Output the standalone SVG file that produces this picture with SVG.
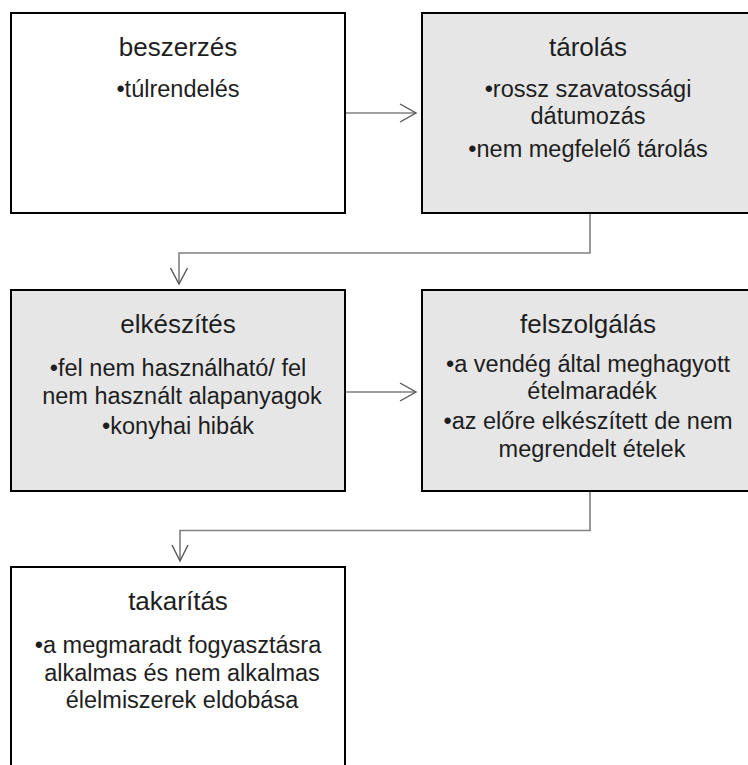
<svg xmlns="http://www.w3.org/2000/svg" width="748" height="765" viewBox="0 0 748 765">
<style>
.box{stroke:#000;stroke-width:2}
.w{fill:#fff}
.g{fill:#e6e6e6}
text{font-family:"Liberation Sans",Arial,sans-serif;fill:#1e1e1e;text-anchor:middle}
.t{font-size:26px}
.b{font-size:23.5px}
.con{fill:none;stroke:#808080;stroke-width:1.6}
.ah{fill:none;stroke:#555;stroke-width:1.4}
</style>
<rect width="748" height="765" fill="#fff"/>
<g id="connectors">
<path class="con" d="M345,113 H415"/>
<path class="ah" d="M400,104 L416,113 L400,122"/>
<path class="con" d="M590,213 V253 H179 V283"/>
<path class="ah" d="M170.5,268 L179,284 L187.5,268"/>
<path class="con" d="M345,392 H415"/>
<path class="ah" d="M400,383 L416,392 L400,401"/>
<path class="con" d="M590,491 V530.5 H180 V560"/>
<path class="ah" d="M172,545 L180,561 L188,545"/>
</g>
<g id="beszerzes">
<rect class="box w" x="11" y="13" width="334" height="200"/>
<text class="t" x="178" y="56">beszerzés</text>
<text class="b" x="178" y="97">•túlrendelés</text>
</g>
<g id="tarolas">
<rect class="box g" x="422" y="13" width="334" height="200"/>
<text class="t" x="588" y="56">tárolás</text>
<text class="b" x="588" y="97">•rossz szavatossági</text>
<text class="b" x="588" y="124">dátumozás</text>
<text class="b" x="588" y="157">•nem megfelelő tárolás</text>
</g>
<g id="elkeszites">
<rect class="box g" x="11" y="290" width="334" height="201"/>
<text class="t" x="178" y="333">elkészítés</text>
<text class="b" x="178" y="376">•fel nem használható/ fel</text>
<text class="b" x="182" y="404">nem használt alapanyagok</text>
<text class="b" x="178" y="434">•konyhai hibák</text>
</g>
<g id="felszolgalas">
<rect class="box g" x="422" y="290" width="334" height="201"/>
<text class="t" x="588" y="333">felszolgálás</text>
<text class="b" x="588" y="372">•a vendég által meghagyott</text>
<text class="b" x="592" y="399">ételmaradék</text>
<text class="b" x="588" y="429">•az előre elkészített de nem</text>
<text class="b" x="592" y="457">megrendelt ételek</text>
</g>
<g id="takaritas">
<rect class="box w" x="11" y="567" width="334" height="210"/>
<text class="t" x="178" y="610">takarítás</text>
<text class="b" x="178" y="653">•a megmaradt fogyasztásra</text>
<text class="b" x="182" y="681">alkalmas és nem alkalmas</text>
<text class="b" x="182" y="708">élelmiszerek eldobása</text>
</g>
</svg>
